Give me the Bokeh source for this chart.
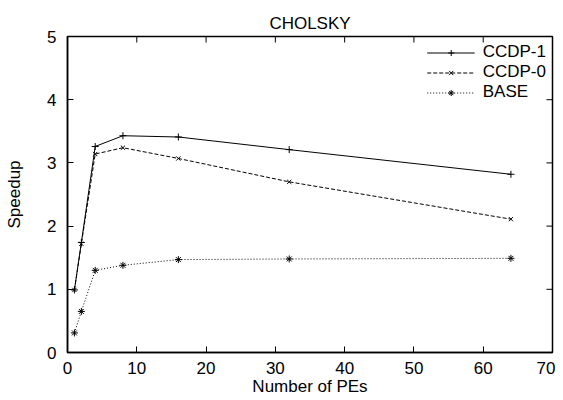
import math
from bokeh.plotting import figure
from bokeh.models import Range1d, Legend, LegendItem, FixedTicker
from bokeh.embed import file_html
from bokeh.resources import INLINE

pes = [1, 2, 4, 8, 16, 32, 64]
ccdp1 = [0.99, 1.74, 3.26, 3.43, 3.41, 3.21, 2.82]
ccdp0 = [0.99, 1.72, 3.14, 3.24, 3.07, 2.70, 2.11]
base = [0.31, 0.65, 1.30, 1.38, 1.47, 1.48, 1.49]

x_ticks = [0, 10, 20, 30, 40, 50, 60, 70]
y_ticks = [0, 1, 2, 3, 4, 5]
x_lo, x_hi = 0, 70
y_lo, y_hi = 0, 5

FONT = "Liberation Sans"
FS = "17px"

p = figure(width=555, height=400, output_backend="svg", toolbar_location=None,
           x_range=Range1d(x_lo, x_hi), y_range=Range1d(y_lo, y_hi),
           min_border_left=67, min_border_right=3, min_border_top=36, min_border_bottom=48,
           title="CHOLSKY")
p.title.align = "center"
p.title.text_font = FONT
p.title.text_font_size = FS
p.title.text_font_style = "normal"
p.title.text_color = "black"
p.title.standoff = 8
p.grid.visible = False
p.outline_line_color = "black"
p.outline_line_width = 1.5
p.background_fill_color = "white"
p.border_fill_color = "white"

for ax in (p.xaxis[0], p.yaxis[0]):
    ax.major_tick_in = 6
    ax.major_tick_out = 0
    ax.minor_tick_in = 0
    ax.minor_tick_out = 0
    ax.major_tick_line_color = "black"
    ax.major_label_text_font = FONT
    ax.major_label_text_font_size = FS
    ax.major_label_text_color = "black"
    ax.axis_label_text_font = FONT
    ax.axis_label_text_font_size = FS
    ax.axis_label_text_font_style = "normal"
    ax.axis_label_text_color = "black"
    ax.axis_line_color = "black"
    ax.axis_line_width = 1.5
p.xaxis[0].ticker = FixedTicker(ticks=x_ticks)
p.yaxis[0].ticker = FixedTicker(ticks=y_ticks)
p.xaxis[0].axis_label = "Number of PEs"
p.yaxis[0].axis_label = "Speedup"
p.xaxis[0].major_label_standoff = 9
p.yaxis[0].major_label_standoff = 11
p.xaxis[0].axis_label_standoff = 0
p.yaxis[0].axis_label_standoff = 20

# mirrored inward ticks on top and right edges
p.ray(x=x_ticks, y=[y_hi] * len(x_ticks), length=6, length_units="screen",
      angle=-math.pi / 2, line_color="black", line_width=1)
p.ray(x=[x_hi] * len(y_ticks), y=y_ticks, length=6, length_units="screen",
      angle=math.pi, line_color="black", line_width=1)

l1 = p.line(pes, ccdp1, line_color="black", line_width=1)
m1 = p.scatter(pes, ccdp1, marker="cross", size=7, line_color="black")
l0 = p.line(pes, ccdp0, line_color="black", line_width=1, line_dash="4 2")
m0 = p.scatter(pes, ccdp0, marker="x", size=6, line_color="black")
lb = p.line(pes, base, line_color="black", line_width=1, line_dash="1 2")
mb = p.scatter(pes, base, marker="asterisk", size=7, line_color="black")

legend = Legend(items=[LegendItem(label="CCDP-1", renderers=[l1, m1]),
                       LegendItem(label="CCDP-0", renderers=[l0, m0]),
                       LegendItem(label="BASE", renderers=[lb, mb])],
                location="top_right", border_line_color=None, background_fill_alpha=0,
                label_text_font=FONT, label_text_font_size=FS, label_text_color="black",
                glyph_width=48, label_height=15, glyph_height=15, spacing=-4,
                padding=2, margin=6, label_standoff=8)
p.add_layout(legend)

open("out.html", "w").write(file_html(p, INLINE))
